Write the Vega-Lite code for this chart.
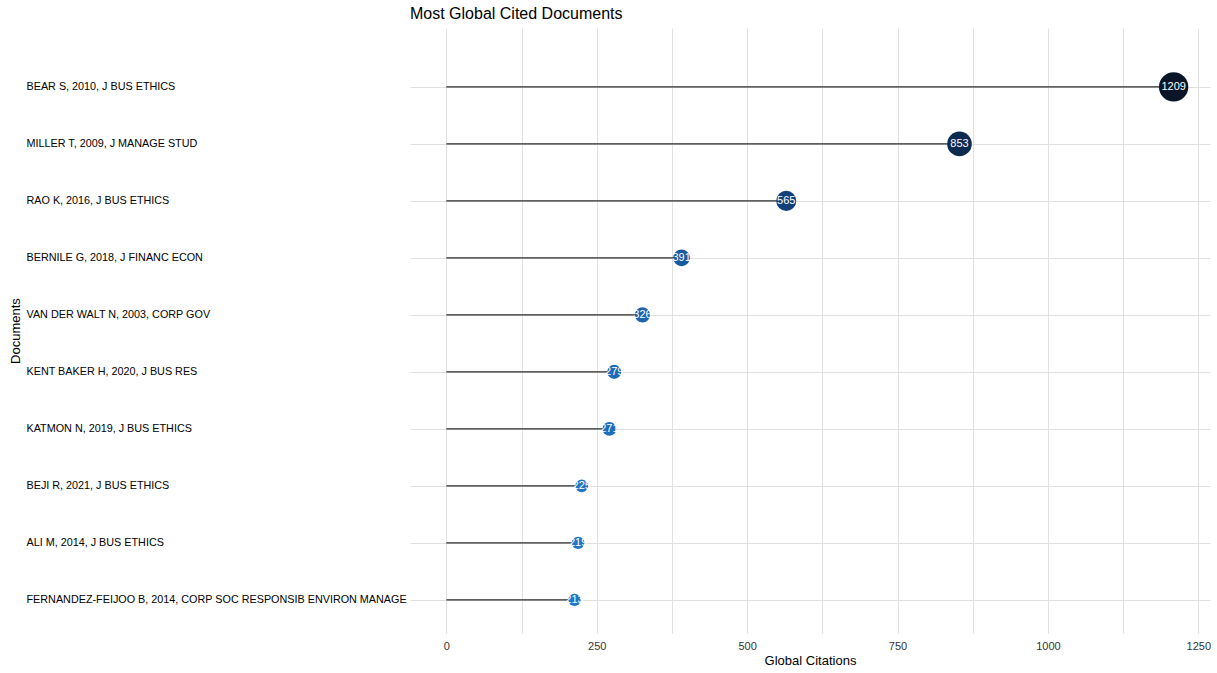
{
  "$schema": "https://vega.github.io/schema/vega-lite/v6.json",
  "autosize": "none",
  "width": 800,
  "height": 605,
  "padding": {"left": 410, "top": 28, "right": 7, "bottom": 40},
  "background": "white",
  "title": {
    "text": "Most Global Cited Documents",
    "anchor": "start",
    "frame": "group",
    "font": "Liberation Sans",
    "fontSize": 16,
    "fontWeight": "normal",
    "color": "#000000",
    "offset": 6
  },
  "config": {
    "view": {"stroke": null},
    "font": "Liberation Sans"
  },
  "data": {
    "values": [
      {"doc": "BEAR S, 2010, J BUS ETHICS", "citations": 1209, "start": 0},
      {"doc": "MILLER T, 2009, J MANAGE STUD", "citations": 853, "start": 0},
      {"doc": "RAO K, 2016, J BUS ETHICS", "citations": 565, "start": 0},
      {"doc": "BERNILE G, 2018, J FINANC ECON", "citations": 391, "start": 0},
      {"doc": "VAN DER WALT N, 2003, CORP GOV", "citations": 326, "start": 0},
      {"doc": "KENT BAKER H, 2020, J BUS RES", "citations": 279, "start": 0},
      {"doc": "KATMON N, 2019, J BUS ETHICS", "citations": 271, "start": 0},
      {"doc": "BEJI R, 2021, J BUS ETHICS", "citations": 225, "start": 0},
      {"doc": "ALI M, 2014, J BUS ETHICS", "citations": 219, "start": 0},
      {"doc": "FERNANDEZ-FEIJOO B, 2014, CORP SOC RESPONSIB ENVIRON MANAGE", "citations": 213, "start": 0}
    ]
  },
  "encoding": {
    "y": {
      "field": "doc",
      "type": "nominal",
      "sort": null,
      "scale": {"type": "point", "padding": 0.807, "align": 0.64},
      "axis": {
        "title": "Documents",
        "titleFont": "Liberation Sans",
        "titleFontSize": 13,
        "titleFontWeight": "normal",
        "titleColor": "#000000",
        "titleX": -388,
        "titleBaseline": "bottom",
        "labelFont": "Liberation Sans",
        "labelFontSize": 10.8,
        "labelColor": "#000000",
        "labelAlign": "left",
        "labelPadding": 384,
        "labelLimit": 400,
        "ticks": false,
        "tickSize": 0,
        "domain": false,
        "grid": true,
        "gridColor": "#e0e0e0",
        "gridWidth": 1
      }
    },
    "x": {
      "field": "citations",
      "type": "quantitative",
      "scale": {"domain": [-60.45, 1269.45], "nice": false, "zero": false},
      "axis": {
        "title": "Global Citations",
        "titleFont": "Liberation Sans",
        "titleFontSize": 13,
        "titleFontWeight": "normal",
        "titleColor": "#000000",
        "titlePadding": 3,
        "labelFont": "Liberation Sans",
        "labelFontSize": 11,
        "labelColor": "#333333",
        "labelPadding": 7,
        "format": "d",
        "values": [0, 125, 250, 375, 500, 625, 750, 875, 1000, 1125, 1250],
        "labelExpr": "datum.value % 250 == 0 ? datum.label : ''",
        "ticks": false,
        "tickSize": 0,
        "domain": false,
        "grid": true,
        "gridColor": "#e0e0e0",
        "gridWidth": 1
      }
    }
  },
  "layer": [
    {
      "mark": {"type": "rule", "color": "#2b2b2b", "strokeWidth": 1.3},
      "encoding": {
        "x2": {"field": "start"}
      }
    },
    {
      "mark": {"type": "circle", "opacity": 1},
      "encoding": {
        "size": {
          "field": "citations",
          "type": "quantitative",
          "scale": {"domain": [213, 1209], "range": [150, 860], "zero": false},
          "legend": null
        },
        "color": {
          "field": "citations",
          "type": "quantitative",
          "scale": {"domain": [213, 391, 565, 853, 1209], "range": ["#2077c8", "#1a5aa0", "#12407a", "#0d2a4f", "#0a1628"]},
          "legend": null
        }
      }
    },
    {
      "mark": {"type": "text", "color": "white", "font": "Liberation Sans", "fontSize": 11, "align": "center", "baseline": "middle"},
      "encoding": {
        "text": {"field": "citations", "type": "quantitative", "format": "d"}
      }
    }
  ]
}
